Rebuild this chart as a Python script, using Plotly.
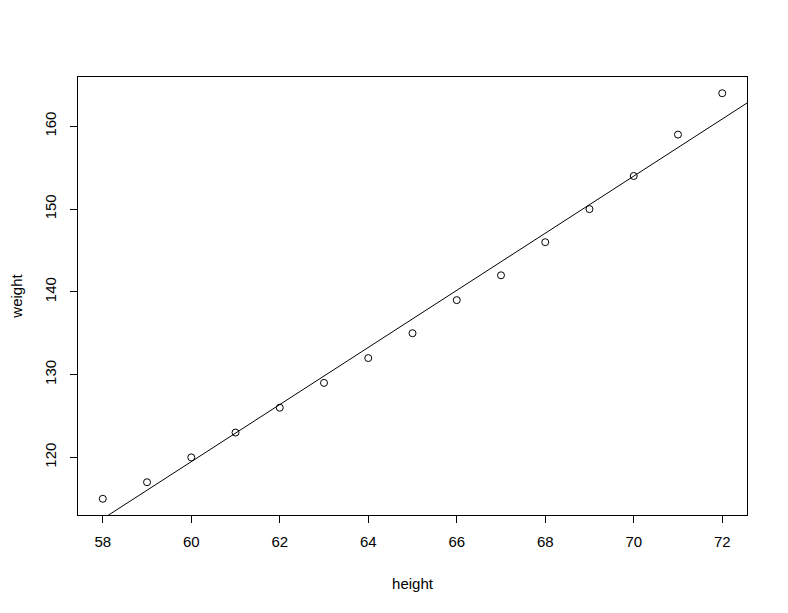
import numpy as np
import plotly.graph_objects as go

# women dataset
height = [58, 59, 60, 61, 62, 63, 64, 65, 66, 67, 68, 69, 70, 71, 72]
weight = [115, 117, 120, 123, 126, 129, 132, 135, 139, 142, 146, 150, 154, 159, 164]

x_ticks = [58, 60, 62, 64, 66, 68, 70, 72]
y_ticks = [120, 130, 140, 150, 160]

# R-style 4% axis padding
def padded(vals):
    lo, hi = min(vals), max(vals)
    d = (hi - lo) * 0.04
    return [lo - d, hi + d]

x_range = padded(height)
y_range = padded(weight)

# least squares fit, drawn across the whole plot like abline()
slope, intercept = np.polyfit(height, weight, 1)
line_x = np.array(x_range)
line_y = intercept + slope * line_x

FONT = "Liberation Sans, Arial, sans-serif"

fig = go.Figure()
fig.add_trace(go.Scatter(
    x=height, y=weight,
    mode="markers",
    marker=dict(symbol="circle-open", size=7, color="black", line=dict(width=1)),
    showlegend=False,
))
fig.add_trace(go.Scatter(
    x=line_x, y=line_y,
    mode="lines",
    line=dict(color="black", width=1),
    showlegend=False,
))

axis_common = dict(
    showgrid=False, zeroline=False, automargin=False,
    showline=True, linecolor="black", linewidth=1, mirror=True,
    ticks="outside", ticklen=7, tickcolor="black", tickwidth=1,
    tickfont=dict(family=FONT, size=15, color="black"),
)

# page body has an 8px margin, so shift the plot area back by 8px
fig.update_layout(
    width=788, height=613,
    paper_bgcolor="white", plot_bgcolor="white",
    margin=dict(l=70, r=49, t=69, b=106),
    font=dict(family=FONT, size=15, color="black"),
    xaxis=dict(
        range=x_range, tickvals=x_ticks, ticklabelstandoff=6,
        title=dict(text="height", standoff=29, font=dict(size=15)),
        **axis_common,
    ),
    yaxis=dict(
        range=y_range, tickvals=y_ticks, tickangle=-90, ticklabelstandoff=8,
        title=dict(text="weight", standoff=22, font=dict(size=15)),
        **axis_common,
    ),
)

fig.write_html("out.html")
